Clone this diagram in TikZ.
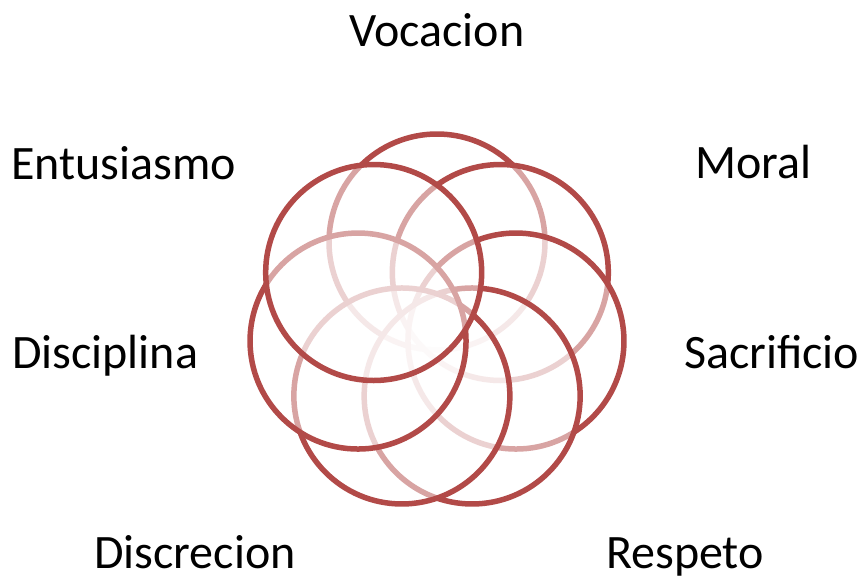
\documentclass[tikz,border=0pt]{standalone}
\usepackage{fontspec}
\setmainfont{Carlito}
\usetikzlibrary{calc}
\definecolor{ringred}{RGB}{178,74,72}
\begin{document}
\begin{tikzpicture}[x=1pt,y=-1pt,
  ring/.style={circle,draw=ringred,line width=5.5pt,fill=white,fill opacity=0.5,
    minimum size=216pt,inner sep=0pt},
  lbl/.style={anchor=base west,inner sep=0pt,font=\fontsize{48}{57}\selectfont,text=black}]
\useasboundingbox (0,0) rectangle (861,576);
\coordinate (mid) at (437,323);
\foreach \n/\a in {1/90,2/38.571,3/-12.857,4/-64.286,5/-115.714,6/-167.143,7/141.429}{
  \node[ring] (c\n) at ($(mid)+(\a:81pt)$) {};
}
\node[lbl] (t1) at (349,46) {Vocacion};
\node[lbl] (t2) at (695,178) {Moral};
\node[lbl] (t3) at (684,368) {Sacrificio};
\node[lbl] (t4) at (606,568) {Respeto};
\node[lbl] (t5) at (94,568) {Discrecion};
\node[lbl] (t6) at (12,368) {Disciplina};
\node[lbl] (t7) at (11,179) {Entusiasmo};
\end{tikzpicture}
\end{document}
